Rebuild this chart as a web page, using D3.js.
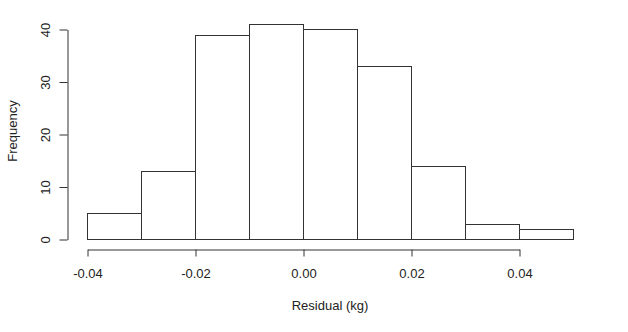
<!DOCTYPE html>
<html>
<head>
<meta charset="utf-8">
<script src="https://cdn.jsdelivr.net/npm/d3@7"></script>
<style>
html,body{margin:0;padding:0;background:#fff;}
svg{display:block;}
text{font-family:"Liberation Sans",Arial,sans-serif;fill:#222;}
</style>
</head>
<body>
<svg id="chart" width="628" height="332"></svg>
<script>
const binStarts = [-0.04, -0.03, -0.02, -0.01, 0.00, 0.01, 0.02, 0.03, 0.04];
const binWidth = 0.01;
const frequencies = [5, 13, 39, 41, 40, 33, 14, 3, 2];
const xTicks = [-0.04, -0.02, 0.00, 0.02, 0.04];
const yTicks = [0, 10, 20, 30, 40];
const xLabel = "Residual (kg)";
const yLabel = "Frequency";

const svg = d3.select("#chart");
const stroke = "#333";

const x = d3.scaleLinear().domain([-0.04, 0.05]).range([87, 573]);
const y = d3.scaleLinear().domain([0, 40]).range([239.3, 29.3]);

// bars
svg.append("g").selectAll("rect")
  .data(binStarts.map((s, i) => ({s, f: frequencies[i]})))
  .join("rect")
  .attr("x", d => Math.round(x(d.s)) + 0.5)
  .attr("y", d => Math.round(y(d.f)) + 0.5)
  .attr("width", d => Math.round(x(d.s + binWidth)) - Math.round(x(d.s)))
  .attr("height", d => Math.round(y(0)) - Math.round(y(d.f)))
  .attr("fill", "#fff")
  .attr("stroke", stroke)
  .attr("stroke-width", 1);

// x axis (spans first to last tick, as in R)
const xa = d3.scaleLinear().domain([xTicks[0], xTicks[xTicks.length - 1]])
  .range([Math.round(x(xTicks[0])) + 0.5, Math.round(x(xTicks[xTicks.length - 1])) + 0.5]);
const gx = svg.append("g").attr("transform", "translate(0,249.5)")
  .call(d3.axisBottom(xa).tickValues(xTicks).tickSize(7).tickSizeOuter(0)
    .tickFormat(d3.format(".2f")));
gx.select(".domain").attr("stroke", stroke);
gx.selectAll(".tick line").attr("stroke", stroke);
gx.selectAll(".tick text").attr("font-size", 13).attr("font-family", "Liberation Sans, Arial, sans-serif")
  .attr("fill", "#222").attr("y", 19).attr("dy", "0.71em")
  .text(d => d3.format(".2f")(d).replace("−", "-"));

// y axis
const ya = d3.scaleLinear().domain([0, 40])
  .range([Math.round(y(0)) + 0.5, Math.round(y(40)) + 0.5]);
const gy = svg.append("g").attr("transform", "translate(67.5,0)")
  .call(d3.axisLeft(ya).tickValues(yTicks).tickSize(8).tickSizeOuter(0));
gy.select(".domain").attr("stroke", stroke);
gy.selectAll(".tick line").attr("stroke", stroke);
gy.selectAll(".tick text")
  .attr("font-size", 13).attr("font-family", "Liberation Sans, Arial, sans-serif").attr("fill", "#222")
  .attr("x", null).attr("dy", null)
  .attr("text-anchor", "middle")
  .attr("transform", "translate(-18,0) rotate(-90)");

// axis titles
svg.append("text").attr("x", 330).attr("y", 310)
  .attr("text-anchor", "middle").attr("font-size", 13).text(xLabel);
svg.append("text").attr("transform", "translate(17,131) rotate(-90)")
  .attr("text-anchor", "middle").attr("font-size", 13).text(yLabel);
</script>
</body>
</html>
